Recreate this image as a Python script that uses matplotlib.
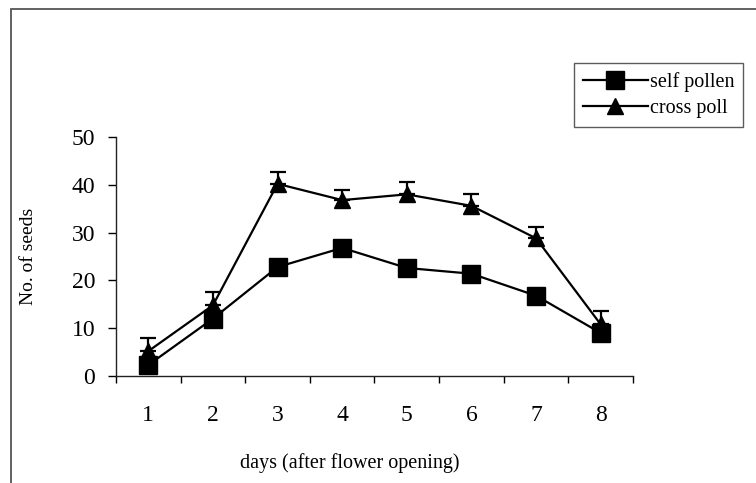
import matplotlib
matplotlib.use("Agg")
import matplotlib.pyplot as plt
from matplotlib.patches import Rectangle
from matplotlib.ticker import FixedLocator, NullFormatter, FixedFormatter

days = [1, 2, 3, 4, 5, 6, 7, 8]
day_labels = ["1", "2", "3", "4", "5", "6", "7", "8"]
self_pollen = [2.3, 12.0, 22.8, 26.8, 22.6, 21.4, 16.8, 9.0]
self_err = [1.0, 1.0, 1.2, 1.2, 1.2, 1.2, 1.2, 1.0]
cross_poll = [5.2, 14.8, 40.2, 36.8, 38.0, 35.6, 28.8, 10.8]
cross_err = [2.8, 2.7, 2.5, 2.2, 2.5, 2.5, 2.4, 2.7]
yticks = [0, 10, 20, 30, 40, 50]

plt.rcParams['font.family'] = ['Liberation Serif', 'DejaVu Serif']

fig = plt.figure(figsize=(7.56, 4.83), dpi=100)
fig.patches.append(Rectangle((11 / 756, -0.1), 1.2, 1 - 9 / 483 + 0.1,
                             transform=fig.transFigure, fill=False,
                             edgecolor='#555555', linewidth=1.3))
ax = fig.add_axes([116 / 756, 1 - 376 / 483, (633 - 116) / 756, (376 - 137) / 483])

c1 = ax.errorbar(days, self_pollen, yerr=[[0] * 8, self_err], color='black', lw=1.6,
                 marker='s', ms=12.5, mfc='black', mec='black', capsize=6, capthick=1.6,
                 elinewidth=1.6, label='self pollen', zorder=3)
c2 = ax.errorbar(days, cross_poll, yerr=[[0] * 8, cross_err], color='black', lw=1.6,
                 marker='^', ms=11, mfc='black', mec='black', capsize=6, capthick=1.6,
                 elinewidth=1.6, label='cross poll', zorder=3)

ax.set_xlim(0.5, 8.5)
ax.set_ylim(0, 50)
ax.spines['top'].set_visible(False)
ax.spines['right'].set_visible(False)
for s in ('left', 'bottom'):
    ax.spines[s].set_linewidth(1.0)
    ax.spines[s].set_color('#222222')

ax.xaxis.set_major_locator(FixedLocator([0.5 + i for i in range(9)]))
ax.xaxis.set_major_formatter(NullFormatter())
ax.xaxis.set_minor_locator(FixedLocator(days))
ax.xaxis.set_minor_formatter(FixedFormatter(day_labels))
ax.tick_params(axis='x', which='major', direction='out', length=5, width=1.0)
ax.tick_params(axis='x', which='minor', length=0, pad=21, labelsize=17)
ax.set_yticks(yticks)
ax.tick_params(axis='y', direction='out', length=6, width=1.0, pad=9, labelsize=17)

ax.set_xlabel('days (after flower opening)', fontsize=14.5)
ax.xaxis.set_label_coords((350 - 116) / 517, (376 - 463) / 239)
ax.xaxis.label.set_va('center')
ax.set_ylabel('No. of seeds', fontsize=14)
ax.yaxis.set_label_coords((28 - 116) / 517, 0.5)
ax.yaxis.label.set_va('center')

leg = ax.legend(handles=[c1[0], c2[0]], labels=['self pollen', 'cross poll'],
                loc='upper left', bbox_to_anchor=(574 / 756, 1 - 63 / 483),
                bbox_transform=fig.transFigure, fontsize=14.5, frameon=True,
                fancybox=False, edgecolor='#333333', handlelength=3.2,
                handletextpad=0.1, borderpad=0.45, labelspacing=0.35,
                borderaxespad=0)
leg.get_frame().set_linewidth(1.0)

fig.savefig('out.png', dpi=100)
